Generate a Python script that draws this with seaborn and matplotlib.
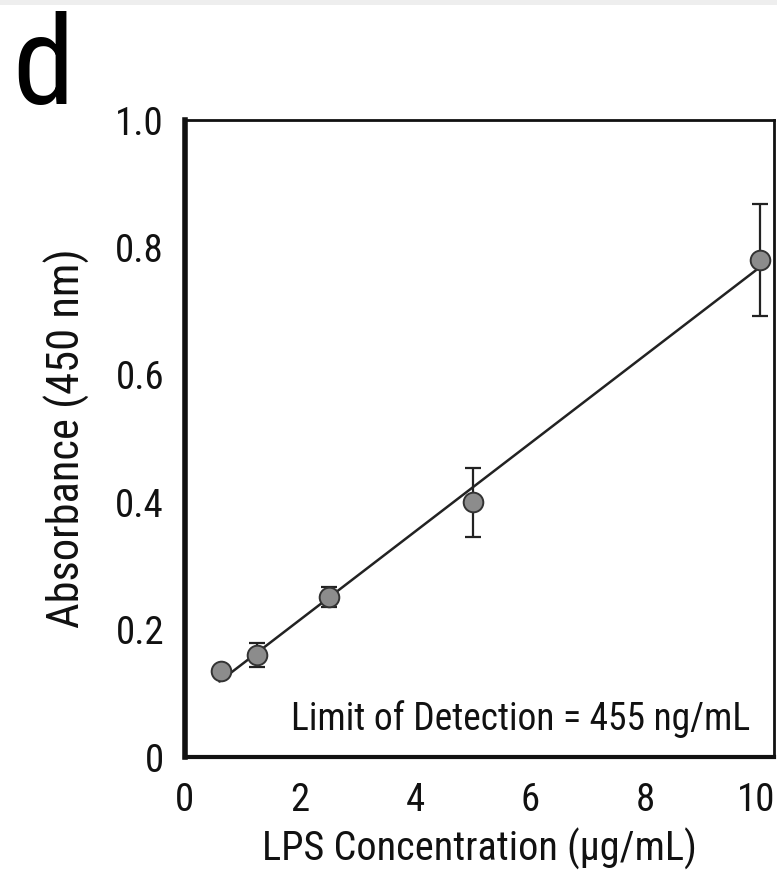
import matplotlib
matplotlib.use("Agg")
import matplotlib.pyplot as plt
import seaborn as sns
import numpy as np
import pandas as pd
from matplotlib.patches import Rectangle
from matplotlib.transforms import ScaledTranslation

# Data
concentration = [0.625, 1.25, 2.5, 5.0, 10.0]          # µg/mL
absorbance = [0.135, 0.160, 0.251, 0.400, 0.780]       # A450
abs_err = [0.0, 0.019, 0.016, 0.054, 0.088]
x_ticks = [0, 2, 4, 6, 8, 10]
y_ticks = [0, 0.2, 0.4, 0.6, 0.8, 1.0]
y_ticklabels = ["0", "0.2", "0.4", "0.6", "0.8", "1.0"]
annotation = "Limit of Detection = 455 ng/mL"
panel_label = "d"

df = pd.DataFrame({"conc": concentration, "abs": absorbance, "err": abs_err})

sns.set_theme(style="white")
FONTS = ["Roboto Condensed", "Archivo Narrow", "DejaVu Sans"]
plt.rcParams["font.family"] = FONTS

fig = plt.figure(figsize=(7.77, 8.85), dpi=100)
fig.patches.append(Rectangle((0, 0.994), 1, 0.006, transform=fig.transFigure,
                             facecolor="#eeeeee", edgecolor="none", zorder=0))
ax = fig.add_axes([0.238, 0.1446, 0.758, 0.7198])

# regression line through the means
slope, intercept = np.polyfit(df["conc"], df["abs"], 1)
fit = pd.DataFrame({"conc": [0.6, 10.0]})
fit["abs"] = slope * fit["conc"] + intercept
sns.lineplot(data=fit, x="conc", y="abs", ax=ax, color="#222222", lw=1.8, zorder=2)

ax.errorbar(df["conc"], df["abs"], yerr=df["err"], fmt="none", ecolor="#222222",
            elinewidth=1.6, capsize=6, capthick=1.6, zorder=3)
sns.scatterplot(data=df, x="conc", y="abs", ax=ax, s=200, color="#8c8c8c",
                edgecolor="#333333", linewidth=1.4, zorder=4)

ax.set_xlim(0, 10.24)
ax.set_ylim(0, 1.0)
ax.set_xticks(x_ticks)
ax.set_xticklabels([str(t) for t in x_ticks])
ax.set_yticks(y_ticks)
ax.set_yticklabels(y_ticklabels)
ax.tick_params(axis="both", direction="out", labelsize=28, colors="#111111",
               width=3, length=9, pad=6)
ax.tick_params(axis="x", length=12)
ax.set_xlabel("LPS Concentration (\u00b5g/mL)", fontsize=29, color="#111111", labelpad=6)
ax.set_ylabel("Absorbance (450 nm)", fontsize=32, color="#111111", labelpad=18)

# keep the "10" label inside the canvas
last = ax.get_xticklabels()[-1]
last.set_transform(last.get_transform() + ScaledTranslation(-3 / 72, 0, fig.dpi_scale_trans))

for side, lw in [("left", 4), ("bottom", 3), ("top", 2), ("right", 2)]:
    ax.spines[side].set_visible(True)
    ax.spines[side].set_color("#111111")
    ax.spines[side].set_linewidth(lw)

ax.text(9.83, 0.042, annotation, ha="right", va="baseline", fontsize=27, color="#111111")

fig.text(0.016, 0.883, panel_label, fontsize=90, color="#000000", va="baseline")

fig.savefig("out.png", dpi=100)
